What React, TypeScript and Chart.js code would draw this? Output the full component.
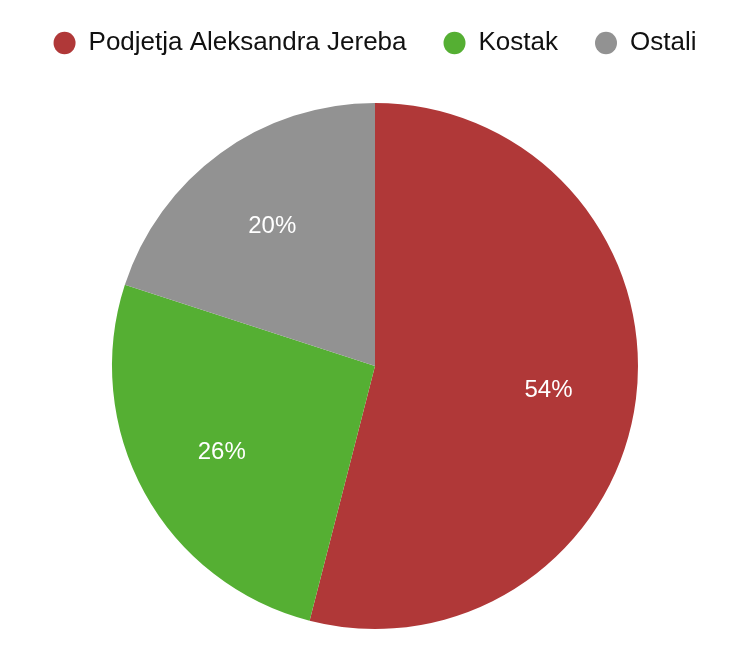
import { useEffect, useRef } from "react";
import { Chart, registerables } from "chart.js";

Chart.register(...registerables);

const labels = ["Podjetja Aleksandra Jereba", "Kostak", "Ostali"];
const shares = [54, 26, 20];
const colors = ["#B03838", "#55AF33", "#929292"];

// pushes the pie down a bit by making the legend box taller
const legendSpacer = {
  id: "legendSpacer",
  beforeInit(chart: any) {
    const legend = chart.legend;
    if (!legend) return;
    const fit = legend.fit;
    legend.fit = function () {
      fit.call(this);
      this.height += 37;
    };
  },
};

// percentage text inside each slice
const sliceLabels = {
  id: "sliceLabels",
  afterDatasetsDraw(chart: any) {
    const ctx = chart.ctx;
    const meta = chart.getDatasetMeta(0);
    const total = shares.reduce((a, b) => a + b, 0);
    ctx.save();
    ctx.fillStyle = "#ffffff";
    ctx.font = "24px 'Liberation Sans', Arial, sans-serif";
    ctx.textAlign = "center";
    ctx.textBaseline = "middle";
    meta.data.forEach((arc: any, i: number) => {
      const p = arc.getProps(["x", "y", "startAngle", "endAngle", "outerRadius"], true);
      const mid = (p.startAngle + p.endAngle) / 2;
      const r = p.outerRadius * 0.665;
      const pct = Math.round((shares[i] / total) * 100);
      ctx.fillText(pct + "%", p.x + Math.cos(mid) * r, p.y + 2 + Math.sin(mid) * r);
    });
    ctx.restore();
  },
};

export default function App() {
  const canvasRef = useRef<HTMLCanvasElement | null>(null);
  const chartRef = useRef<Chart | null>(null);

  useEffect(() => {
    chartRef.current?.destroy();
    chartRef.current = null;
    if (!canvasRef.current) return;

    chartRef.current = new Chart(canvasRef.current, {
      type: "pie",
      data: {
        labels,
        datasets: [
          {
            data: shares,
            backgroundColor: colors,
            borderWidth: 0,
          },
        ],
      },
      options: {
        responsive: true,
        maintainAspectRatio: false,
        animation: false,
        layout: { padding: { top: -7, bottom: 33 } },
        plugins: {
          legend: {
            position: "top",
            labels: {
              usePointStyle: true,
              pointStyle: "circle",
              pointStyleWidth: 22,
              boxHeight: 16,
              color: "#111111",
              padding: 37,
              font: { size: 26, family: "'Liberation Sans', Arial, sans-serif" },
            },
          },
          tooltip: { enabled: false },
        },
      },
      plugins: [legendSpacer, sliceLabels],
    });

    return () => {
      chartRef.current?.destroy();
      chartRef.current = null;
    };
  }, []);

  return (
    <div style={{ position: "fixed", left: 0, top: 0, width: 750, height: 662, background: "#fff" }}>
      <canvas ref={canvasRef}></canvas>
    </div>
  );
}
